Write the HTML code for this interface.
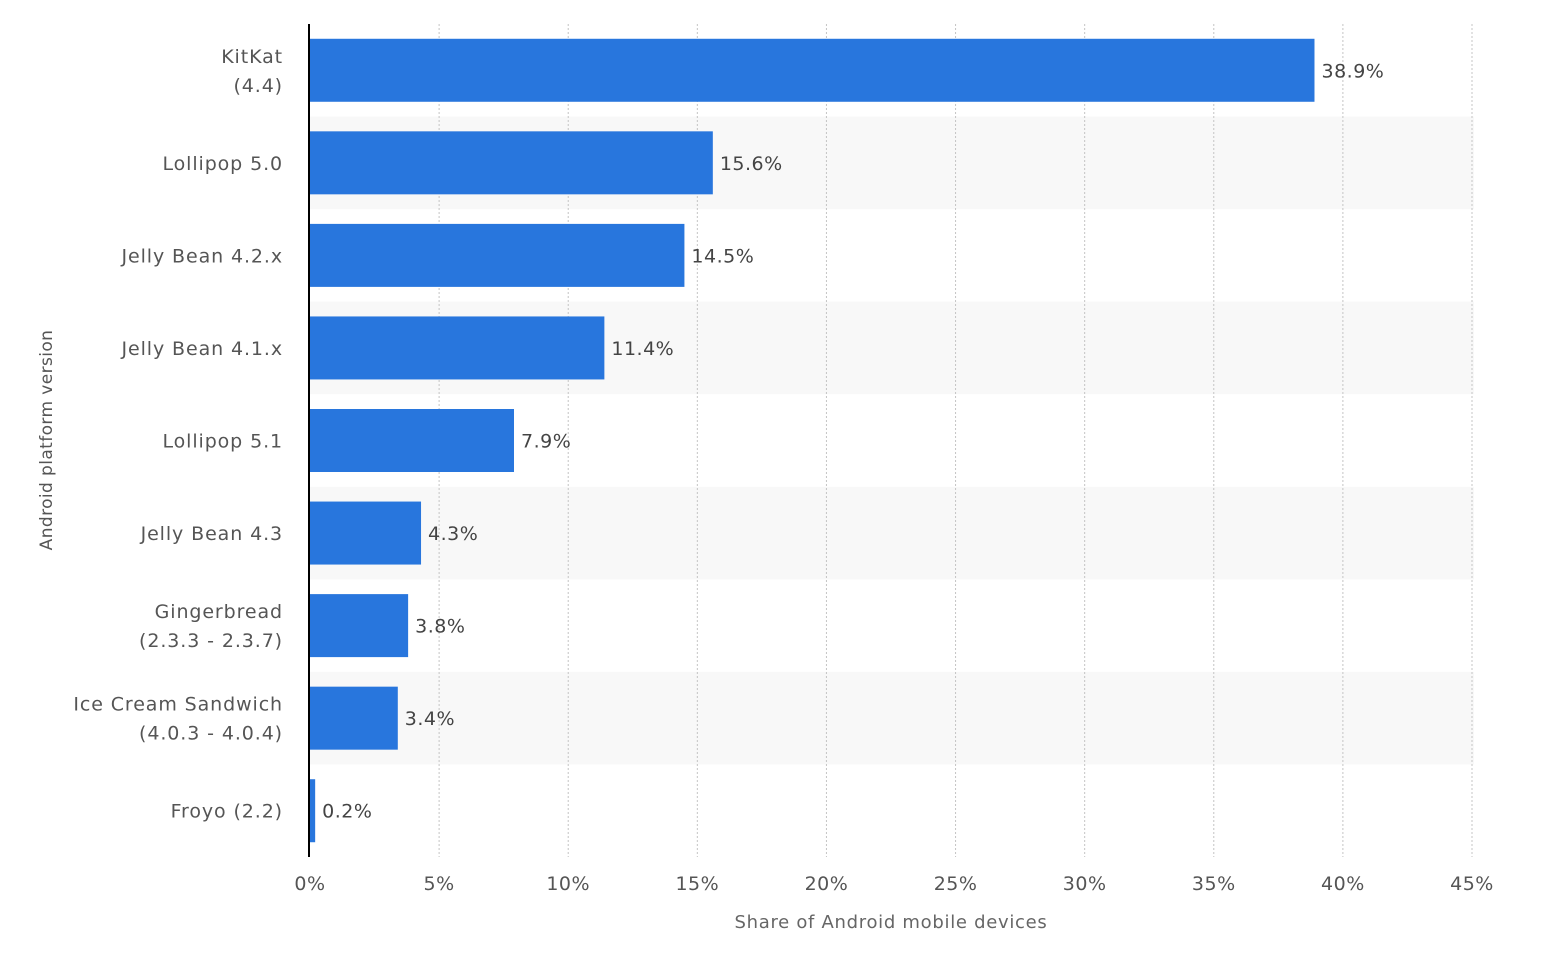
<!DOCTYPE html>
<html><head><meta charset="utf-8"><style>
html,body{margin:0;padding:0;background:#fff;}
svg{display:block;font-family:"DejaVu Sans","Liberation Sans",sans-serif;}
</style></head><body>
<svg id="chart" width="1542" height="970"></svg>
<script>
const categories=[["KitKat","(4.4)"],["Lollipop 5.0"],["Jelly Bean 4.2.x"],["Jelly Bean 4.1.x"],["Lollipop 5.1"],["Jelly Bean 4.3"],["Gingerbread","(2.3.3 - 2.3.7)"],["Ice Cream Sandwich","(4.0.3 - 4.0.4)"],["Froyo (2.2)"]];
const values=[38.9,15.6,14.5,11.4,7.9,4.3,3.8,3.4,0.2];
const valueLabels=["38.9%","15.6%","14.5%","11.4%","7.9%","4.3%","3.8%","3.4%","0.2%"];
const ticks=[0,5,10,15,20,25,30,35,40,45];
const tickLabels=["0%","5%","10%","15%","20%","25%","30%","35%","40%","45%"];

const NS="http://www.w3.org/2000/svg";
const svg=document.getElementById('chart');
const L=310,R=1472,T=24,B=857;
const xs=v=>L+(v/45)*(R-L);
const rowH=(B-T)/categories.length;
const ys=i=>T+i*rowH;
function mk(tag,attrs,parent){const e=document.createElementNS(NS,tag);for(const k in attrs)e.setAttribute(k,attrs[k]);(parent||svg).appendChild(e);return e;}

categories.forEach((c,i)=>{if(i%2===1){const r=mk('rect',{x:L,y:ys(i),width:R-L+2,height:rowH,fill:'#f8f8f8'});

}});
ticks.forEach((t,i)=>{
 if(t>0){const g=mk('line',{x1:xs(t),x2:xs(t),y1:T,y2:B,stroke:'#c4c4c4','stroke-width':1,'stroke-dasharray':'2,2'});
 
 }
 const tl=mk('text',{x:xs(t),y:890,'text-anchor':'middle','font-size':19,'letter-spacing':0.5,fill:'#555'});tl.textContent=tickLabels[i];
 
 
});
values.forEach((v,i)=>{
 const cy=ys(i)+rowH/2;
 const b=mk('rect',{x:L,y:cy-31.5,width:xs(v)-L,height:63,fill:'#2876dd'});
 
 
 const vl=mk('text',{x:xs(v)+7,y:cy+7,'font-size':19,'letter-spacing':0.5,fill:'#444'});vl.textContent=valueLabels[i];
 
 
 const lines=categories[i];
 lines.forEach((ln,j)=>{
  const yy=cy+7+(j-(lines.length-1)/2)*29;
  const cl=mk('text',{x:283,y:yy,'text-anchor':'end','font-size':19,'letter-spacing':0.9,fill:'#555'});cl.textContent=ln;
  
  
 });
});
const ax=mk('line',{x1:309,x2:309,y1:T,y2:B,stroke:'#000','stroke-width':2});


const xt=mk('text',{x:891,y:928,'text-anchor':'middle','font-size':18,'letter-spacing':0.7,fill:'#666'});xt.textContent='Share of Android mobile devices';


const yt=mk('text',{x:0,y:0,'text-anchor':'middle','font-size':17,'letter-spacing':0.4,fill:'#555',transform:'translate(52,440) rotate(-90)'});yt.textContent='Android platform version';


</script>
</body></html>
